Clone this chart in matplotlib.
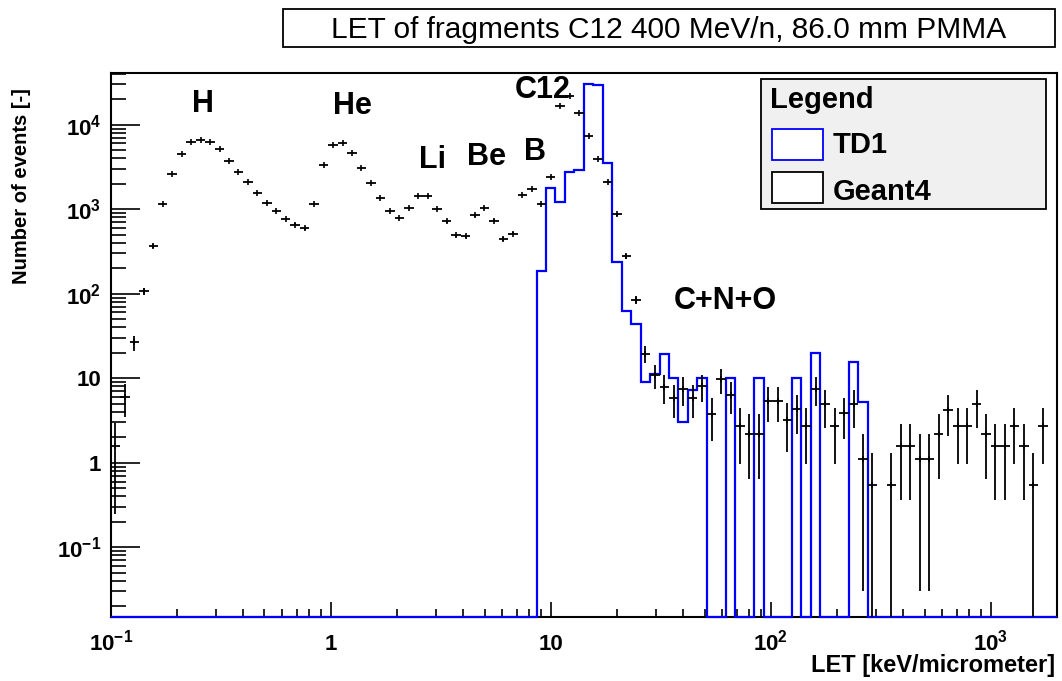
import numpy as np
import matplotlib
matplotlib.use("Agg")
import matplotlib.pyplot as plt
from matplotlib.patches import Rectangle

plt.rcParams['font.family'] = ['Liberation Sans', 'DejaVu Sans']
plt.rcParams['font.weight'] = 'bold'
plt.rcParams['mathtext.fontset'] = 'custom'
plt.rcParams['mathtext.rm'] = 'Liberation Sans:bold'
plt.rcParams['mathtext.bf'] = 'Liberation Sans:bold'
plt.rcParams['mathtext.default'] = 'rm'

# 100 logarithmic LET bins, 0.1 .. 2000 keV/um
let_min, let_max, n_bins = 0.1, 2000.0, 100

# Geant4 counts per bin (0 = empty bin)
g4 = [1.6, 6.0, 26.5, 107, 370, 1160, 2640, 4510, 6300, 6590,
      6300, 5120, 3730, 2790, 2090, 1550, 1180, 957, 764, 654,
      598, 1160, 3320, 5760, 6030, 4670, 3055, 2034, 1373, 957,
      785, 1030, 1413, 1413, 1003, 716, 489, 477, 843, 1030,
      730, 444, 513, 1480, 1740, 1148, 2400, 16630, 22000, 13650,
      7360, 3900, 2090, 866, 277, 85, 19.6, 10.8, 7.9, 5.9,
      7.5, 5.9, 8.1, 3.8, 9.7, 6.4, 2.7, 2.2, 2.2, 5.4,
      5.4, 3.2, 4.3, 2.7, 7.5, 4.9, 2.7, 3.9, 4.9, 1.1,
      0.54, 0, 0.54, 1.6, 1.6, 1.1, 1.1, 2.2, 4.2, 2.7,
      2.7, 4.9, 2.2, 1.6, 1.6, 2.7, 1.6, 0.54, 2.7, 0]

# statistical errors of the Geant4 bins
g4_err = [1.35, 2.5, 5.3, 11, 20, 35, 52, 68, 80, 82,
          80, 72, 62, 54, 46, 40, 35, 31, 28, 26,
          25, 35, 58, 76, 78, 70, 56, 46, 38, 31,
          29, 33, 38, 38, 32, 27, 22, 22, 29, 33,
          27, 21, 23, 39, 42, 34, 49, 130, 150, 120,
          88, 64, 47, 30, 17, 9.5, 4.6, 3.4, 2.9, 2.5,
          2.8, 2.5, 2.9, 2.0, 3.2, 2.6, 1.73, 1.56, 1.56, 2.4,
          2.4, 1.85, 2.1, 1.73, 2.8, 2.3, 1.73, 2.0, 2.3, 1.07,
          0.75, 0, 0.75, 1.24, 1.24, 1.07, 1.07, 1.56, 2.1, 1.73,
          1.73, 2.3, 1.56, 1.24, 1.24, 1.73, 1.24, 0.75, 1.73, 0]

# TD1 measured spectrum, same binning
td1 = [0] * 45 + [187, 1800, 1213, 2740, 2920,
                  30200, 29400, 3560, 239, 62.6, 44.3, 9.1, 11.3, 19.6, 10,
                  3.0, 7.2, 10, 0, 0, 10, 0, 0, 10, 0,
                  0, 0, 10, 0, 20, 0, 0, 0, 15.5, 5.2] + [0] * 20

fragments = ['H', 'He', 'Li', 'Be', 'B', 'C12', 'C+N+O']
frag_x = [0.263, 1.25, 2.89, 5.08, 8.48, 9.23, 62.0]
frag_y = [17500, 16600, 3820, 4140, 4750, 25700, 82]

ymin, ymax = 0.0151, 40500

edges = np.logspace(np.log10(let_min), np.log10(let_max), n_bins + 1)
centers = np.sqrt(edges[:-1] * edges[1:])
g4 = np.array(g4, dtype=float)
g4_err = np.array(g4_err, dtype=float)
td1 = np.array(td1, dtype=float)

fig = plt.figure(figsize=(10.62, 6.81), dpi=100)
ax = fig.add_axes([110.7 / 1062, 1 - 616.7 / 681, (1057 - 110.7) / 1062, (616.7 - 73.3) / 681])
ax.set_xscale('log')
ax.set_yscale('log')
ax.set_xlim(let_min, let_max)
ax.set_ylim(ymin, ymax)

# TD1 as a step histogram, empty bins sit on the bottom of the frame
td1_draw = np.where(td1 > 0, td1, ymin)
ax.stairs(td1_draw, edges, baseline=None, color='#0000ff', linewidth=1.6,
          zorder=3, clip_on=False)

# Geant4 as points with bin-width and statistical error bars
m = g4 > 0
lo = np.where(g4 - g4_err > ymin, g4_err, g4 - ymin)
ax.errorbar(centers[m], g4[m],
            xerr=[centers[m] - edges[:-1][m], edges[1:][m] - centers[m]],
            yerr=[lo[m], g4_err[m]], fmt='none', ecolor='black',
            elinewidth=1.3, capsize=0, zorder=4)
ax.plot(centers[m], g4[m], ls='none', marker='|', ms=4, mew=1.2,
        color='black', zorder=4)

for name, fx, fy in zip(fragments, frag_x, frag_y):
    ax.text(fx, fy, name, fontsize=22, fontweight='bold', ha='center', va='center')

for s in ax.spines.values():
    s.set_linewidth(1.5)
    s.set_color('black')

ax.tick_params(which='both', direction='in', top=False, right=False)
ax.tick_params(axis='y', which='major', length=21, width=1.2, pad=7, labelsize=16)
ax.tick_params(axis='y', which='minor', length=11, width=1.2)
ax.tick_params(axis='x', which='major', length=11, width=1.2, pad=24, labelsize=16)
ax.tick_params(axis='x', which='minor', length=5.5, width=1.2)

ax.set_xticks([0.1, 1, 10, 100, 1000])
ax.set_xticklabels(['$10^{-1}$', '1', '10', '$10^{2}$', '$10^{3}$'])
for t in ax.get_xticklabels():
    t.set_va('baseline')
ax.set_yticks([0.1, 1, 10, 100, 1000, 10000])
ax.set_yticklabels(['$10^{-1}$', '1', '10', '$10^{2}$', '$10^{3}$', '$10^{4}$'])
ax.xaxis.set_minor_locator(matplotlib.ticker.LogLocator(base=10, subs=np.arange(2, 10), numticks=20))
ax.yaxis.set_minor_locator(matplotlib.ticker.LogLocator(base=10, subs=np.arange(2, 10), numticks=20))
ax.xaxis.set_minor_formatter(matplotlib.ticker.NullFormatter())
ax.yaxis.set_minor_formatter(matplotlib.ticker.NullFormatter())

fig.text(22 / 1062, 1 - 88 / 681, 'Number of events [-]', rotation=90,
         ha='center', va='top', fontsize=14.5, fontweight='bold')
fig.text(1055 / 1062, 1 - 672 / 681, 'LET [keV/micrometer]', ha='right',
         va='baseline', fontsize=17, fontweight='bold')

# title pave
fig.patches.append(Rectangle((283 / 1062, 1 - 47 / 681), 772 / 1062, 38 / 681,
                             transform=fig.transFigure, facecolor='white',
                             edgecolor='black', linewidth=1.3))
fig.text(669 / 1062, 1 - 38 / 681, 'LET of fragments C12 400 MeV/n, 86.0 mm PMMA',
         ha='center', va='baseline', fontsize=21.5, fontweight='normal')

# legend pave
fig.patches.append(Rectangle((760.7 / 1062, 1 - 209.3 / 681), 285.3 / 1062, 130.3 / 681,
                             transform=fig.transFigure, facecolor='#f0f0f0',
                             edgecolor='black', linewidth=1.3, zorder=5))
fig.patches.append(Rectangle((771.7 / 1062, 1 - 160 / 681), 51.6 / 1062, 30.7 / 681,
                             transform=fig.transFigure, facecolor='white',
                             edgecolor='#0000ff', linewidth=1.3, zorder=6))
fig.patches.append(Rectangle((771.7 / 1062, 1 - 202.7 / 681), 51.6 / 1062, 31 / 681,
                             transform=fig.transFigure, facecolor='white',
                             edgecolor='black', linewidth=1.3, zorder=6))
fig.text(770 / 1062, 1 - 107.7 / 681, 'Legend', ha='left', va='baseline',
         fontsize=21, fontweight='bold', zorder=7)
fig.text(833 / 1062, 1 - 153.3 / 681, 'TD1', ha='left', va='baseline',
         fontsize=21, fontweight='bold', zorder=7)
fig.text(833 / 1062, 1 - 200 / 681, 'Geant4', ha='left', va='baseline',
         fontsize=21, fontweight='bold', zorder=7)

fig.savefig('out.png', dpi=100)
